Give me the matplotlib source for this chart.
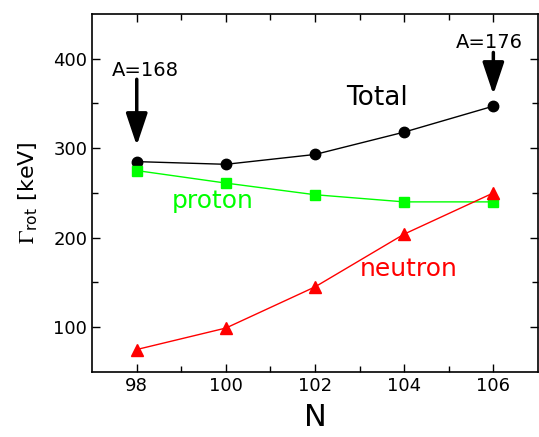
import matplotlib
matplotlib.use("Agg")
import matplotlib.pyplot as plt

plt.rcParams['mathtext.fontset'] = 'stix'

# neutron number and rotational damping widths (keV)
N = [98, 100, 102, 104, 106]
total = [285, 282, 293, 318, 347]
proton = [275, 261, 248, 240, 240]
neutron = [75, 99, 145, 204, 250]

fig, ax = plt.subplots(figsize=(5.39, 4.37), dpi=100)
fig.subplots_adjust(left=0.171, right=0.998, top=0.968, bottom=0.149)

ax.plot(N, total, '-o', color='black', lw=1, ms=7.5)
ax.plot(N, proton, '-s', color='#00ff00', lw=1, ms=7)
ax.plot(N, neutron, '-^', color='#ff0000', lw=1, ms=8.5)

ax.set_xlim(97, 107)
ax.set_ylim(50, 450)
ax.set_xticks([98, 100, 102, 104, 106])
ax.set_xticks([99, 101, 103, 105], minor=True)
ax.set_yticks([100, 200, 300, 400])
ax.set_yticks([150, 250, 350], minor=True)
ax.tick_params(which='both', direction='in', top=True, right=True, labelsize=13)
ax.tick_params(which='major', length=6, width=1)
ax.tick_params(which='minor', length=4, width=1)
for s in ax.spines.values():
    s.set_linewidth(1.2)

ax.set_xlabel('N', fontsize=22, labelpad=6)
ax.set_ylabel(r'$\Gamma_{\mathregular{rot}}$ [keV]', fontsize=16, labelpad=10)

# series labels
ax.text(103.4, 356, 'Total', fontsize=19, ha='center', va='center', color='black')
ax.text(99.7, 241, 'proton', fontsize=18, ha='center', va='center', color='#00ff00')
ax.text(104.1, 165, 'neutron', fontsize=18, ha='center', va='center', color='#ff0000')

# mass number markers
arrow = dict(arrowstyle='-|>,head_width=0.47,head_length=1.4',
             mutation_scale=14, color='black', lw=2.5, shrinkA=0, shrinkB=0)
ax.annotate('', xy=(98, 303), xytext=(98, 377), arrowprops=arrow)
ax.text(98.2, 387, 'A=168', fontsize=14, ha='center', va='center')
ax.annotate('', xy=(106, 360), xytext=(106, 407), arrowprops=arrow)
ax.text(105.9, 418, 'A=176', fontsize=14, ha='center', va='center')

plt.savefig('out.png', dpi=100)
